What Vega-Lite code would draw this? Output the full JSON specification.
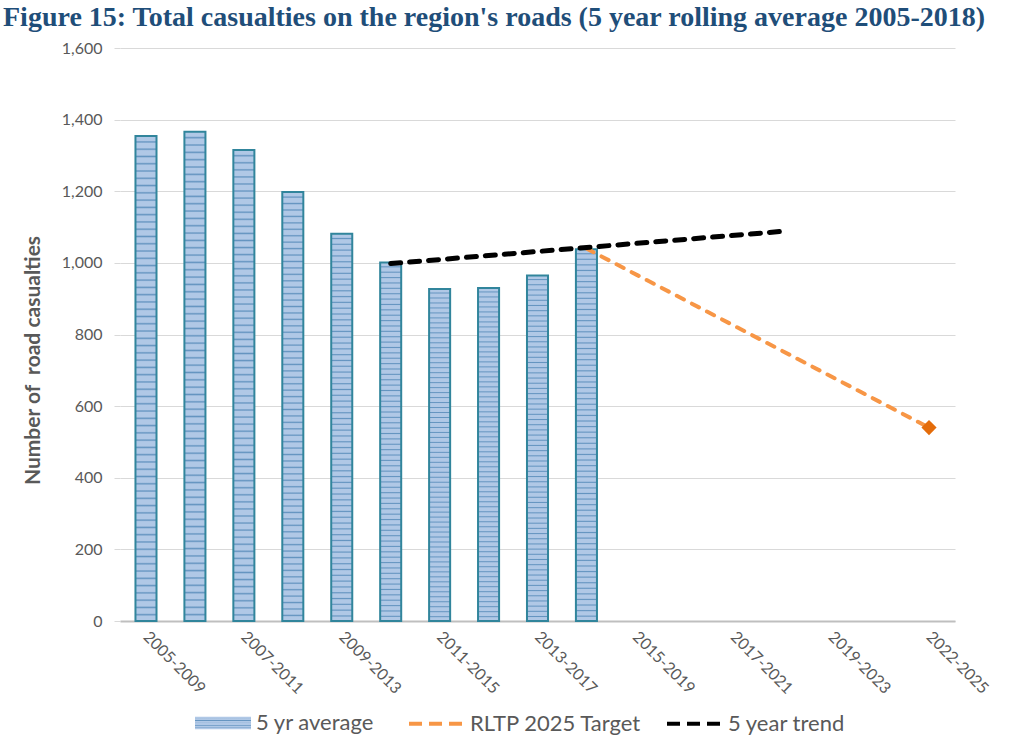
{
  "$schema": "https://vega.github.io/schema/vega-lite/v6.json",
  "width": 835,
  "height": 573,
  "autosize": {"type": "none"},
  "padding": {"left": 120, "top": 48, "right": 57, "bottom": 133},
  "background": "white",
  "title": {
    "text": "Figure 15: Total casualties on the region's roads (5 year rolling average 2005-2018)",
    "anchor": "start",
    "frame": "group",
    "dx": -117,
    "offset": 8,
    "font": "Liberation Serif",
    "fontSize": 28,
    "fontWeight": "bold",
    "color": "#1F4E79"
  },
  "config": {
    "font": "Lato",
    "view": {"stroke": null},
    "axis": {"labelFont": "Lato", "labelColor": "#595959", "titleFont": "Lato", "titleColor": "#595959"},
    "legend": {"labelFont": "Lato", "labelColor": "#595959", "labelFontSize": 22, "labelLimit": 400}
  },
  "data": {
    "values": [
      {"period": "2005-2009", "avg": 1354},
      {"period": "2006-2010", "avg": 1366},
      {"period": "2007-2011", "avg": 1315},
      {"period": "2008-2012", "avg": 1198},
      {"period": "2009-2013", "avg": 1081},
      {"period": "2010-2014", "avg": 1001, "trend": 998},
      {"period": "2011-2015", "avg": 927},
      {"period": "2012-2016", "avg": 930},
      {"period": "2013-2017", "avg": 965},
      {"period": "2014-2018", "avg": 1038, "target": 1040},
      {"period": "2015-2019"},
      {"period": "2016-2020"},
      {"period": "2017-2021"},
      {"period": "2018-2022", "trend": 1088},
      {"period": "2019-2023"},
      {"period": "2020-2024"},
      {"period": "2022-2025", "target": 540}
    ]
  },
  "encoding": {
    "x": {
      "field": "period",
      "type": "nominal",
      "title": null,
      "scale": {
        "domain": ["2005-2009","2006-2010","2007-2011","2008-2012","2009-2013","2010-2014","2011-2015","2012-2016","2013-2017","2014-2018","2015-2019","2016-2020","2017-2021","2018-2022","2019-2023","2020-2024","2022-2025"],
        "paddingInner": 0.57,
        "paddingOuter": 0.316
      },
      "axis": {
        "values": ["2005-2009","2007-2011","2009-2013","2011-2015","2013-2017","2015-2019","2017-2021","2019-2023","2022-2025"],
        "labelAngle": 45,
        "labelAlign": "left",
        "labelBaseline": "middle",
        "labelPadding": 13,
        "labelFontSize": 16,
        "ticks": false,
        "domainColor": "#BFBFBF",
        "domainWidth": 2,
        "grid": false
      }
    }
  },
  "layer": [
    {
      "mark": {
        "type": "bar",
        "stroke": "#31859C",
        "strokeWidth": 2,
        "fill": {"gradient": "linear", "x1": 0, "y1": 0, "x2": 0, "y2": 1, "stops": [
          {"offset": 0, "color": "#B0C8E6"}, {"offset": 0.009, "color": "#B0C8E6"}, {"offset": 0.012, "color": "#6494C0"},
          {"offset": 0.015, "color": "#B0C8E6"}, {"offset": 0.024, "color": "#B0C8E6"}, {"offset": 0.027, "color": "#6494C0"},
          {"offset": 0.03, "color": "#B0C8E6"}, {"offset": 0.039, "color": "#B0C8E6"}, {"offset": 0.042, "color": "#6494C0"},
          {"offset": 0.045, "color": "#B0C8E6"}, {"offset": 0.054, "color": "#B0C8E6"}, {"offset": 0.057, "color": "#6494C0"},
          {"offset": 0.06, "color": "#B0C8E6"}, {"offset": 0.069, "color": "#B0C8E6"}, {"offset": 0.072, "color": "#6494C0"},
          {"offset": 0.075, "color": "#B0C8E6"}, {"offset": 0.084, "color": "#B0C8E6"}, {"offset": 0.087, "color": "#6494C0"},
          {"offset": 0.09, "color": "#B0C8E6"}, {"offset": 0.099, "color": "#B0C8E6"}, {"offset": 0.102, "color": "#6494C0"},
          {"offset": 0.105, "color": "#B0C8E6"}, {"offset": 0.114, "color": "#B0C8E6"}, {"offset": 0.117, "color": "#6494C0"},
          {"offset": 0.12, "color": "#B0C8E6"}, {"offset": 0.129, "color": "#B0C8E6"}, {"offset": 0.132, "color": "#6494C0"},
          {"offset": 0.135, "color": "#B0C8E6"}, {"offset": 0.144, "color": "#B0C8E6"}, {"offset": 0.147, "color": "#6494C0"},
          {"offset": 0.15, "color": "#B0C8E6"}, {"offset": 0.159, "color": "#B0C8E6"}, {"offset": 0.162, "color": "#6494C0"},
          {"offset": 0.165, "color": "#B0C8E6"}, {"offset": 0.174, "color": "#B0C8E6"}, {"offset": 0.177, "color": "#6494C0"},
          {"offset": 0.18, "color": "#B0C8E6"}, {"offset": 0.189, "color": "#B0C8E6"}, {"offset": 0.192, "color": "#6494C0"},
          {"offset": 0.195, "color": "#B0C8E6"}, {"offset": 0.204, "color": "#B0C8E6"}, {"offset": 0.207, "color": "#6494C0"},
          {"offset": 0.21, "color": "#B0C8E6"}, {"offset": 0.219, "color": "#B0C8E6"}, {"offset": 0.222, "color": "#6494C0"},
          {"offset": 0.225, "color": "#B0C8E6"}, {"offset": 0.234, "color": "#B0C8E6"}, {"offset": 0.237, "color": "#6494C0"},
          {"offset": 0.24, "color": "#B0C8E6"}, {"offset": 0.249, "color": "#B0C8E6"}, {"offset": 0.252, "color": "#6494C0"},
          {"offset": 0.255, "color": "#B0C8E6"}, {"offset": 0.264, "color": "#B0C8E6"}, {"offset": 0.267, "color": "#6494C0"},
          {"offset": 0.27, "color": "#B0C8E6"}, {"offset": 0.279, "color": "#B0C8E6"}, {"offset": 0.282, "color": "#6494C0"},
          {"offset": 0.285, "color": "#B0C8E6"}, {"offset": 0.294, "color": "#B0C8E6"}, {"offset": 0.297, "color": "#6494C0"},
          {"offset": 0.3, "color": "#B0C8E6"}, {"offset": 0.309, "color": "#B0C8E6"}, {"offset": 0.312, "color": "#6494C0"},
          {"offset": 0.315, "color": "#B0C8E6"}, {"offset": 0.324, "color": "#B0C8E6"}, {"offset": 0.327, "color": "#6494C0"},
          {"offset": 0.33, "color": "#B0C8E6"}, {"offset": 0.339, "color": "#B0C8E6"}, {"offset": 0.342, "color": "#6494C0"},
          {"offset": 0.345, "color": "#B0C8E6"}, {"offset": 0.354, "color": "#B0C8E6"}, {"offset": 0.357, "color": "#6494C0"},
          {"offset": 0.36, "color": "#B0C8E6"}, {"offset": 0.369, "color": "#B0C8E6"}, {"offset": 0.372, "color": "#6494C0"},
          {"offset": 0.375, "color": "#B0C8E6"}, {"offset": 0.384, "color": "#B0C8E6"}, {"offset": 0.387, "color": "#6494C0"},
          {"offset": 0.39, "color": "#B0C8E6"}, {"offset": 0.399, "color": "#B0C8E6"}, {"offset": 0.402, "color": "#6494C0"},
          {"offset": 0.405, "color": "#B0C8E6"}, {"offset": 0.414, "color": "#B0C8E6"}, {"offset": 0.417, "color": "#6494C0"},
          {"offset": 0.42, "color": "#B0C8E6"}, {"offset": 0.429, "color": "#B0C8E6"}, {"offset": 0.432, "color": "#6494C0"},
          {"offset": 0.435, "color": "#B0C8E6"}, {"offset": 0.444, "color": "#B0C8E6"}, {"offset": 0.447, "color": "#6494C0"},
          {"offset": 0.45, "color": "#B0C8E6"}, {"offset": 0.459, "color": "#B0C8E6"}, {"offset": 0.462, "color": "#6494C0"},
          {"offset": 0.465, "color": "#B0C8E6"}, {"offset": 0.474, "color": "#B0C8E6"}, {"offset": 0.477, "color": "#6494C0"},
          {"offset": 0.48, "color": "#B0C8E6"}, {"offset": 0.489, "color": "#B0C8E6"}, {"offset": 0.492, "color": "#6494C0"},
          {"offset": 0.495, "color": "#B0C8E6"}, {"offset": 0.504, "color": "#B0C8E6"}, {"offset": 0.507, "color": "#6494C0"},
          {"offset": 0.51, "color": "#B0C8E6"}, {"offset": 0.519, "color": "#B0C8E6"}, {"offset": 0.522, "color": "#6494C0"},
          {"offset": 0.525, "color": "#B0C8E6"}, {"offset": 0.534, "color": "#B0C8E6"}, {"offset": 0.537, "color": "#6494C0"},
          {"offset": 0.54, "color": "#B0C8E6"}, {"offset": 0.549, "color": "#B0C8E6"}, {"offset": 0.552, "color": "#6494C0"},
          {"offset": 0.555, "color": "#B0C8E6"}, {"offset": 0.564, "color": "#B0C8E6"}, {"offset": 0.567, "color": "#6494C0"},
          {"offset": 0.57, "color": "#B0C8E6"}, {"offset": 0.579, "color": "#B0C8E6"}, {"offset": 0.582, "color": "#6494C0"},
          {"offset": 0.585, "color": "#B0C8E6"}, {"offset": 0.594, "color": "#B0C8E6"}, {"offset": 0.597, "color": "#6494C0"},
          {"offset": 0.6, "color": "#B0C8E6"}, {"offset": 0.609, "color": "#B0C8E6"}, {"offset": 0.612, "color": "#6494C0"},
          {"offset": 0.615, "color": "#B0C8E6"}, {"offset": 0.624, "color": "#B0C8E6"}, {"offset": 0.627, "color": "#6494C0"},
          {"offset": 0.63, "color": "#B0C8E6"}, {"offset": 0.639, "color": "#B0C8E6"}, {"offset": 0.642, "color": "#6494C0"},
          {"offset": 0.645, "color": "#B0C8E6"}, {"offset": 0.654, "color": "#B0C8E6"}, {"offset": 0.657, "color": "#6494C0"},
          {"offset": 0.66, "color": "#B0C8E6"}, {"offset": 0.669, "color": "#B0C8E6"}, {"offset": 0.672, "color": "#6494C0"},
          {"offset": 0.675, "color": "#B0C8E6"}, {"offset": 0.684, "color": "#B0C8E6"}, {"offset": 0.687, "color": "#6494C0"},
          {"offset": 0.69, "color": "#B0C8E6"}, {"offset": 0.699, "color": "#B0C8E6"}, {"offset": 0.702, "color": "#6494C0"},
          {"offset": 0.705, "color": "#B0C8E6"}, {"offset": 0.714, "color": "#B0C8E6"}, {"offset": 0.717, "color": "#6494C0"},
          {"offset": 0.72, "color": "#B0C8E6"}, {"offset": 0.729, "color": "#B0C8E6"}, {"offset": 0.732, "color": "#6494C0"},
          {"offset": 0.735, "color": "#B0C8E6"}, {"offset": 0.744, "color": "#B0C8E6"}, {"offset": 0.747, "color": "#6494C0"},
          {"offset": 0.75, "color": "#B0C8E6"}, {"offset": 0.759, "color": "#B0C8E6"}, {"offset": 0.762, "color": "#6494C0"},
          {"offset": 0.765, "color": "#B0C8E6"}, {"offset": 0.774, "color": "#B0C8E6"}, {"offset": 0.777, "color": "#6494C0"},
          {"offset": 0.78, "color": "#B0C8E6"}, {"offset": 0.789, "color": "#B0C8E6"}, {"offset": 0.792, "color": "#6494C0"},
          {"offset": 0.795, "color": "#B0C8E6"}, {"offset": 0.804, "color": "#B0C8E6"}, {"offset": 0.807, "color": "#6494C0"},
          {"offset": 0.81, "color": "#B0C8E6"}, {"offset": 0.819, "color": "#B0C8E6"}, {"offset": 0.822, "color": "#6494C0"},
          {"offset": 0.825, "color": "#B0C8E6"}, {"offset": 0.834, "color": "#B0C8E6"}, {"offset": 0.837, "color": "#6494C0"},
          {"offset": 0.84, "color": "#B0C8E6"}, {"offset": 0.849, "color": "#B0C8E6"}, {"offset": 0.852, "color": "#6494C0"},
          {"offset": 0.855, "color": "#B0C8E6"}, {"offset": 0.864, "color": "#B0C8E6"}, {"offset": 0.867, "color": "#6494C0"},
          {"offset": 0.87, "color": "#B0C8E6"}, {"offset": 0.879, "color": "#B0C8E6"}, {"offset": 0.882, "color": "#6494C0"},
          {"offset": 0.885, "color": "#B0C8E6"}, {"offset": 0.894, "color": "#B0C8E6"}, {"offset": 0.897, "color": "#6494C0"},
          {"offset": 0.9, "color": "#B0C8E6"}, {"offset": 0.909, "color": "#B0C8E6"}, {"offset": 0.912, "color": "#6494C0"},
          {"offset": 0.915, "color": "#B0C8E6"}, {"offset": 0.924, "color": "#B0C8E6"}, {"offset": 0.927, "color": "#6494C0"},
          {"offset": 0.93, "color": "#B0C8E6"}, {"offset": 0.939, "color": "#B0C8E6"}, {"offset": 0.942, "color": "#6494C0"},
          {"offset": 0.945, "color": "#B0C8E6"}, {"offset": 0.954, "color": "#B0C8E6"}, {"offset": 0.957, "color": "#6494C0"},
          {"offset": 0.96, "color": "#B0C8E6"}, {"offset": 0.969, "color": "#B0C8E6"}, {"offset": 0.972, "color": "#6494C0"},
          {"offset": 0.975, "color": "#B0C8E6"}, {"offset": 0.984, "color": "#B0C8E6"}, {"offset": 0.987, "color": "#6494C0"},
          {"offset": 0.99, "color": "#B0C8E6"}, {"offset": 1, "color": "#B0C8E6"}
        ]}
      },
      "encoding": {
        "y": {
          "field": "avg",
          "type": "quantitative",
          "title": "Number of \u00a0road casualties",
          "scale": {"domain": [0, 1600], "nice": false},
          "axis": {
            "values": [0, 200, 400, 600, 800, 1000, 1200, 1400, 1600],
            "format": ",.0f",
            "labelFontSize": 16,
            "labelPadding": 12,
            "domain": false,
            "tickColor": "#D9D9D9",
            "tickSize": 6,
            "gridColor": "#D9D9D9",
            "gridWidth": 1.2,
            "titleFontSize": 21,
            "titleFontWeight": "bold",
            "titleY": 312,
            "titlePadding": 18
          }
        },
        "opacity": {
          "datum": "5 yr average",
          "scale": {"domain": ["5 yr average"], "range": [1]},
          "legend": {
            "title": null,
            "orient": "none",
            "legendX": 74,
            "legendY": 646,
            "symbolType": "M-1,-0.22H1V0.22H-1Z",
            "symbolSize": 3136,
            "symbolFillColor": "#98B6DA",
            "symbolStrokeColor": "#31859C",
            "symbolStrokeWidth": 2,
            "symbolOpacity": 1,
            "labelOffset": 4
          }
        }
      }
    },
    {
      "transform": [{"filter": "isValid(datum.target)"}],
      "mark": {"type": "line", "strokeWidth": 4, "strokeDash": [8, 9], "strokeCap": "round"},
      "encoding": {
        "y": {"field": "target", "type": "quantitative"},
        "stroke": {
          "datum": "RLTP 2025 Target",
          "scale": {"domain": ["RLTP 2025 Target", "5 year trend"], "range": ["#F79646", "#000000"]},
          "legend": {
            "title": null,
            "orient": "none",
            "direction": "horizontal",
            "legendX": 287,
            "legendY": 646,
            "symbolType": "stroke",
            "symbolSize": 3025,
            "symbolStrokeWidth": 4,
            "symbolDash": [13, 7],
            "columnPadding": 17,
            "labelOffset": 4
          }
        }
      }
    },
    {
      "transform": [{"filter": "isValid(datum.trend)"}],
      "mark": {"type": "line", "strokeWidth": 5, "strokeDash": [10, 9], "strokeCap": "round"},
      "encoding": {
        "y": {"field": "trend", "type": "quantitative"},
        "stroke": {"datum": "5 year trend"}
      }
    },
    {
      "transform": [{"filter": "datum.period === '2022-2025'"}],
      "mark": {"type": "point", "shape": "diamond", "filled": true, "color": "#E46C0A", "size": 230, "opacity": 1},
      "encoding": {
        "y": {"field": "target", "type": "quantitative"}
      }
    }
  ]
}
